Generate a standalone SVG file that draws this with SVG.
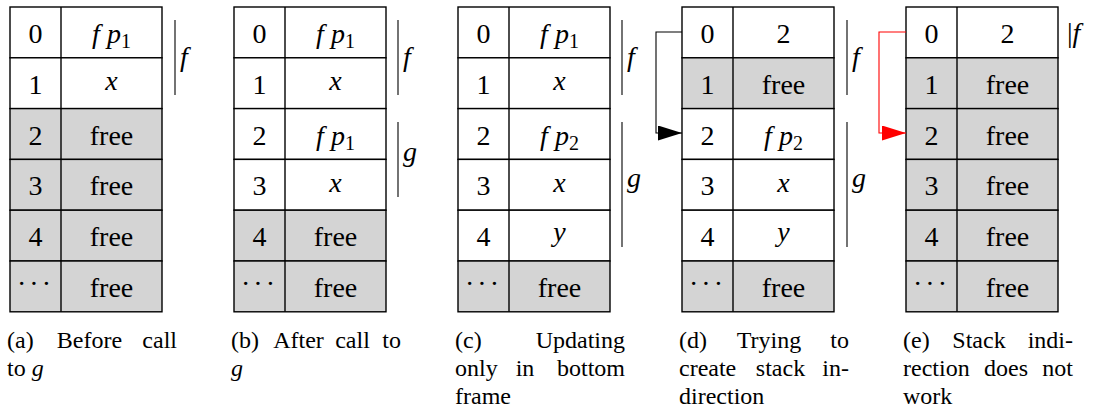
<svg xmlns="http://www.w3.org/2000/svg" width="1099" height="414" viewBox="0 0 1099 414" font-family="'Times New Roman', Tinos, 'Liberation Serif', 'DejaVu Serif', 'Noto Serif', serif">
<style>
.w{fill:#ffffff;stroke:#000;stroke-width:1.4}
.g{fill:#d4d4d4;stroke:#000;stroke-width:1.4}
.div{stroke:#000;stroke-width:1.4}
.t{font-size:28px;fill:#000;text-anchor:middle}
.i{font-style:italic}
.sub{font-size:20px}
.bar{stroke:#000;stroke-width:1.1}
.lab{font-size:28px;font-style:italic;fill:#000}
.cap{font-size:24px;fill:#000}
.m{text-anchor:middle}
.e{text-anchor:end}
.dots{font-size:28px;fill:#000;text-anchor:middle;letter-spacing:3px}
</style>
<defs>
<marker id="ab" markerWidth="24" markerHeight="16" refX="24" refY="7.5" orient="auto" markerUnits="userSpaceOnUse"><path d="M0,0 L24,7.5 L0,15 Z" fill="#000"/></marker>
<marker id="ar" markerWidth="24" markerHeight="16" refX="24" refY="7.5" orient="auto" markerUnits="userSpaceOnUse"><path d="M0,0 L24,7.5 L0,15 Z" fill="#ff0000"/></marker>
</defs>

<!-- Panel (a) -->
<g id="panel-a">
<rect class="w" x="10" y="7" width="152" height="50.8"/>
<rect class="w" x="10" y="57.8" width="152" height="50.8"/>
<rect class="g" x="10" y="108.6" width="152" height="50.8"/>
<rect class="g" x="10" y="159.4" width="152" height="50.8"/>
<rect class="g" x="10" y="210.2" width="152" height="50.8"/>
<rect class="g" x="10" y="261" width="152" height="50.8"/>
<line class="div" x1="61" y1="7" x2="61" y2="311.8"/>
<text class="t" x="35.5" y="43">0</text>
<text class="t" x="111.5" y="43"><tspan class="i">f p</tspan><tspan class="sub" dy="5">1</tspan></text>
<text class="t" x="35.5" y="93.8">1</text>
<text class="t i" x="111.5" y="90">x</text>
<text class="t" x="35.5" y="144.6">2</text>
<text class="t" x="111.5" y="144.6">free</text>
<text class="t" x="35.5" y="195.4">3</text>
<text class="t" x="111.5" y="195.4">free</text>
<text class="t" x="35.5" y="246.2">4</text>
<text class="t" x="111.5" y="246.2">free</text>
<text class="dots" x="35.5" y="293">···</text>
<text class="t" x="111.5" y="297">free</text>
<line class="bar" x1="175" y1="20" x2="175" y2="95"/>
<text class="lab" x="180" y="66">f</text>
<text class="cap" x="7" y="348">(a)</text>
<text class="cap m" x="89.5" y="348">Before</text>
<text class="cap e" x="177" y="348">call</text>
<text class="cap" x="7" y="376">to <tspan class="i">g</tspan></text>
</g>

<!-- Panel (b) -->
<g id="panel-b">
<rect class="w" x="234" y="7" width="152" height="50.8"/>
<rect class="w" x="234" y="57.8" width="152" height="50.8"/>
<rect class="w" x="234" y="108.6" width="152" height="50.8"/>
<rect class="w" x="234" y="159.4" width="152" height="50.8"/>
<rect class="g" x="234" y="210.2" width="152" height="50.8"/>
<rect class="g" x="234" y="261" width="152" height="50.8"/>
<line class="div" x1="285" y1="7" x2="285" y2="311.8"/>
<text class="t" x="259.5" y="43">0</text>
<text class="t" x="335.5" y="43"><tspan class="i">f p</tspan><tspan class="sub" dy="5">1</tspan></text>
<text class="t" x="259.5" y="93.8">1</text>
<text class="t i" x="335.5" y="90">x</text>
<text class="t" x="259.5" y="144.6">2</text>
<text class="t" x="335.5" y="144.6"><tspan class="i">f p</tspan><tspan class="sub" dy="5">1</tspan></text>
<text class="t" x="259.5" y="195.4">3</text>
<text class="t i" x="335.5" y="191.6">x</text>
<text class="t" x="259.5" y="246.2">4</text>
<text class="t" x="335.5" y="246.2">free</text>
<text class="dots" x="259.5" y="293">···</text>
<text class="t" x="335.5" y="297">free</text>
<line class="bar" x1="398" y1="20" x2="398" y2="95"/>
<text class="lab" x="403" y="66">f</text>
<line class="bar" x1="398" y1="122" x2="398" y2="197"/>
<text class="lab" x="403" y="161">g</text>
<text class="cap" x="231" y="348">(b)</text>
<text class="cap m" x="298.5" y="348">After</text>
<text class="cap m" x="352.5" y="348">call</text>
<text class="cap e" x="401" y="348">to</text>
<text class="cap i" x="231" y="376">g</text>
</g>

<!-- Panel (c) -->
<g id="panel-c">
<rect class="w" x="458" y="7" width="152" height="50.8"/>
<rect class="w" x="458" y="57.8" width="152" height="50.8"/>
<rect class="w" x="458" y="108.6" width="152" height="50.8"/>
<rect class="w" x="458" y="159.4" width="152" height="50.8"/>
<rect class="w" x="458" y="210.2" width="152" height="50.8"/>
<rect class="g" x="458" y="261" width="152" height="50.8"/>
<line class="div" x1="509" y1="7" x2="509" y2="311.8"/>
<text class="t" x="483.5" y="43">0</text>
<text class="t" x="559.5" y="43"><tspan class="i">f p</tspan><tspan class="sub" dy="5">1</tspan></text>
<text class="t" x="483.5" y="93.8">1</text>
<text class="t i" x="559.5" y="90">x</text>
<text class="t" x="483.5" y="144.6">2</text>
<text class="t" x="559.5" y="144.6"><tspan class="i">f p</tspan><tspan class="sub" dy="5">2</tspan></text>
<text class="t" x="483.5" y="195.4">3</text>
<text class="t i" x="559.5" y="191.6">x</text>
<text class="t" x="483.5" y="246.2">4</text>
<text class="t i" x="559.5" y="241.2">y</text>
<text class="dots" x="483.5" y="293">···</text>
<text class="t" x="559.5" y="297">free</text>
<line class="bar" x1="622" y1="20" x2="622" y2="95"/>
<text class="lab" x="627" y="66">f</text>
<line class="bar" x1="622" y1="122" x2="622" y2="247"/>
<text class="lab" x="627" y="187">g</text>
<text class="cap" x="455" y="348">(c)</text>
<text class="cap e" x="625" y="348">Updating</text>
<text class="cap" x="455" y="376">only</text>
<text class="cap m" x="525" y="376">in</text>
<text class="cap e" x="625" y="376">bottom</text>
<text class="cap" x="455" y="404">frame</text>
</g>

<!-- Panel (d) -->
<g id="panel-d">
<rect class="w" x="682" y="7" width="152" height="50.8"/>
<rect class="g" x="682" y="57.8" width="152" height="50.8"/>
<rect class="w" x="682" y="108.6" width="152" height="50.8"/>
<rect class="w" x="682" y="159.4" width="152" height="50.8"/>
<rect class="w" x="682" y="210.2" width="152" height="50.8"/>
<rect class="g" x="682" y="261" width="152" height="50.8"/>
<line class="div" x1="733" y1="7" x2="733" y2="311.8"/>
<text class="t" x="707.5" y="43">0</text>
<text class="t" x="783.5" y="43">2</text>
<text class="t" x="707.5" y="93.8">1</text>
<text class="t" x="783.5" y="93.8">free</text>
<text class="t" x="707.5" y="144.6">2</text>
<text class="t" x="783.5" y="144.6"><tspan class="i">f p</tspan><tspan class="sub" dy="5">2</tspan></text>
<text class="t" x="707.5" y="195.4">3</text>
<text class="t i" x="783.5" y="191.6">x</text>
<text class="t" x="707.5" y="246.2">4</text>
<text class="t i" x="783.5" y="241.2">y</text>
<text class="dots" x="707.5" y="293">···</text>
<text class="t" x="783.5" y="297">free</text>
<line class="bar" x1="847" y1="20" x2="847" y2="95"/>
<text class="lab" x="852" y="66">f</text>
<line class="bar" x1="847" y1="122" x2="847" y2="247"/>
<text class="lab" x="852" y="187">g</text>
<text class="cap" x="679" y="348">(d)</text>
<text class="cap m" x="769" y="348">Trying</text>
<text class="cap e" x="849" y="348">to</text>
<text class="cap" x="679" y="376">create</text>
<text class="cap m" x="780.5" y="376">stack</text>
<text class="cap e" x="849" y="376">in-</text>
<text class="cap" x="679" y="404">direction</text>
</g>

<!-- Panel (e) -->
<g id="panel-e">
<rect class="w" x="906" y="7" width="152" height="50.8"/>
<rect class="g" x="906" y="57.8" width="152" height="50.8"/>
<rect class="g" x="906" y="108.6" width="152" height="50.8"/>
<rect class="g" x="906" y="159.4" width="152" height="50.8"/>
<rect class="g" x="906" y="210.2" width="152" height="50.8"/>
<rect class="g" x="906" y="261" width="152" height="50.8"/>
<line class="div" x1="957" y1="7" x2="957" y2="311.8"/>
<text class="t" x="931.5" y="43">0</text>
<text class="t" x="1007.5" y="43">2</text>
<text class="t" x="931.5" y="93.8">1</text>
<text class="t" x="1007.5" y="93.8">free</text>
<text class="t" x="931.5" y="144.6">2</text>
<text class="t" x="1007.5" y="144.6">free</text>
<text class="t" x="931.5" y="195.4">3</text>
<text class="t" x="1007.5" y="195.4">free</text>
<text class="t" x="931.5" y="246.2">4</text>
<text class="t" x="1007.5" y="246.2">free</text>
<text class="dots" x="931.5" y="293">···</text>
<text class="t" x="1007.5" y="297">free</text>
<text class="lab" x="1067" y="42"><tspan font-style="normal">|</tspan>f</text>
<text class="cap" x="903" y="348">(e)</text>
<text class="cap m" x="979" y="348">Stack</text>
<text class="cap e" x="1073" y="348">indi-</text>
<text class="cap" x="903" y="376">rection</text>
<text class="cap m" x="1006" y="376">does</text>
<text class="cap e" x="1073" y="376">not</text>
<text class="cap" x="903" y="404">work</text>
</g>

<g id="connectors" fill="none">
<polyline points="682,32 656,32 656,133 682,133" stroke="#000" stroke-width="1.1" marker-end="url(#ab)"/>
<polyline points="906,32 879,32 879,133 906,133" stroke="#ff0000" stroke-width="1.1" marker-end="url(#ar)"/>
</g>
</svg>
